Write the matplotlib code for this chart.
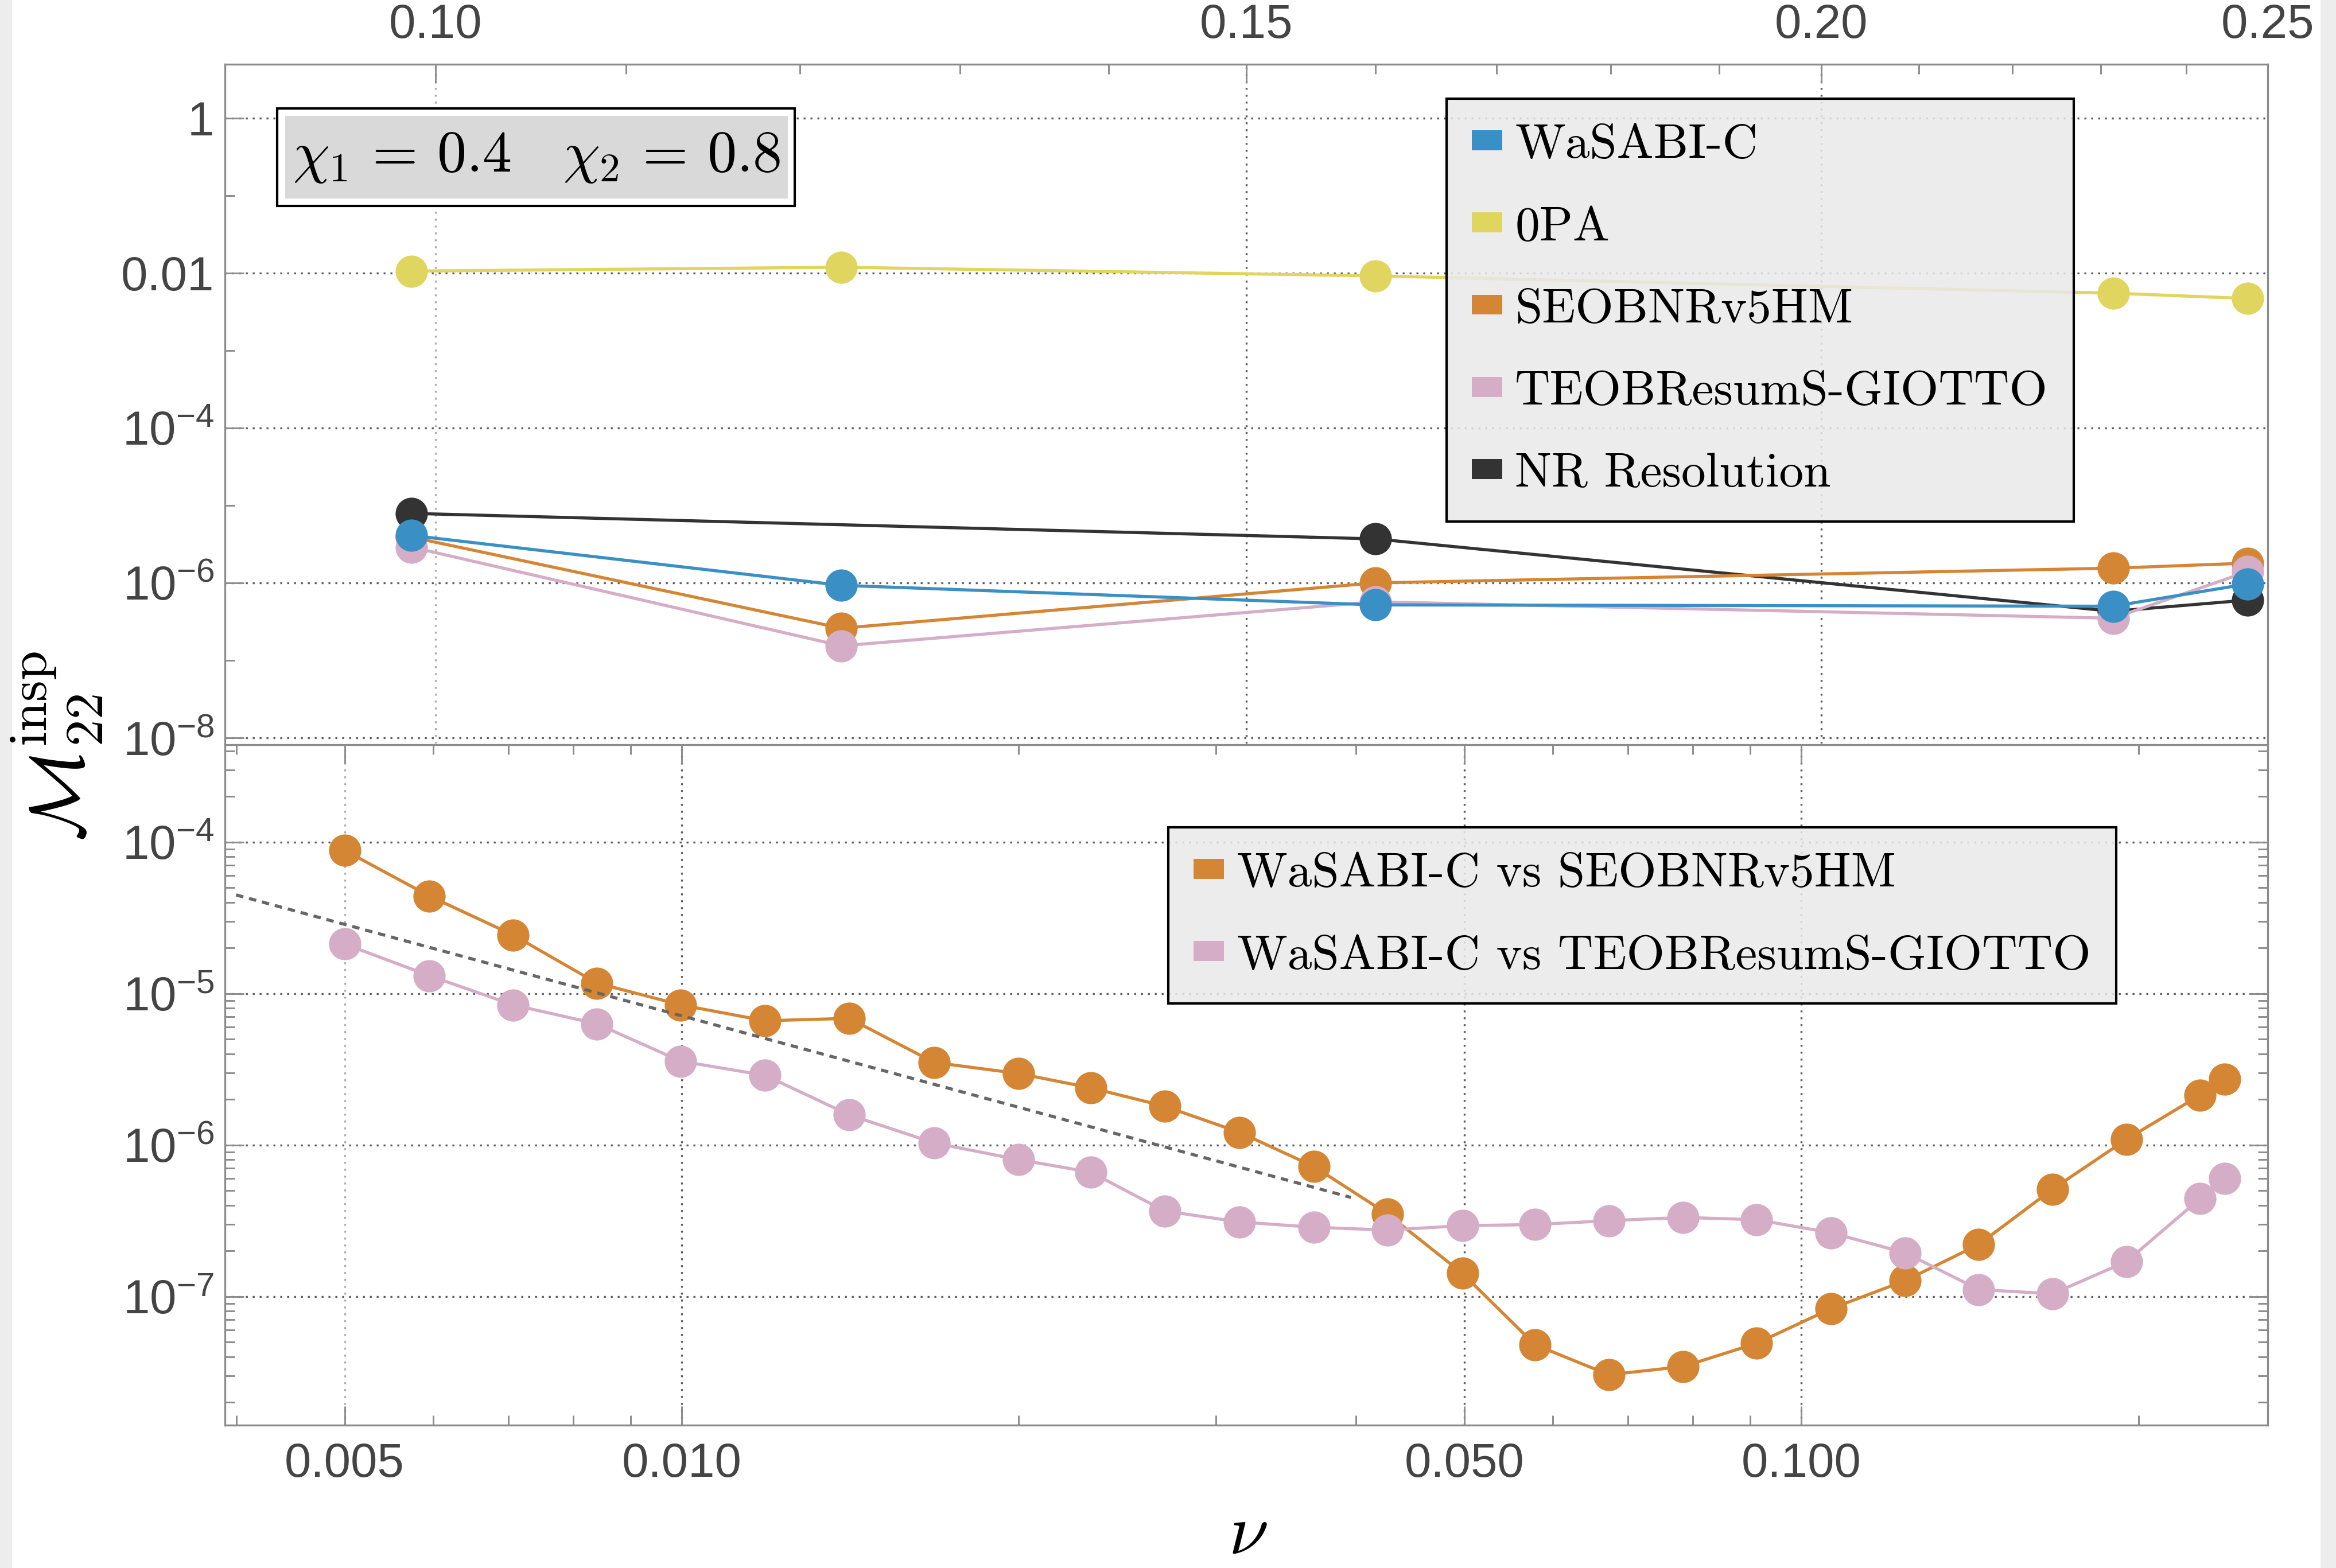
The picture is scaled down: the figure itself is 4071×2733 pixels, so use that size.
import matplotlib
matplotlib.use("Agg")
import matplotlib.pyplot as plt
from matplotlib.patches import Patch, Rectangle
from matplotlib.ticker import LogLocator, NullFormatter

plt.rcParams['font.family'] = ['Liberation Sans', 'DejaVu Sans']
plt.rcParams['mathtext.fontset'] = 'custom'
plt.rcParams['mathtext.rm'] = 'Liberation Sans'
plt.rcParams['mathtext.it'] = 'Liberation Sans:italic'
plt.rcParams['mathtext.bf'] = 'Liberation Sans:bold'

# ---- top panel: NR comparison for chi1=0.4, chi2=0.8
nu_top = [0.0988, 0.1225, 0.160, 0.2314, 0.2475]
nu_nr = [0.0988, 0.160, 0.2314, 0.2475]
mm_wasabi = [4.1e-6, 9.3e-7, 5.2e-7, 5.0e-7, 9.7e-7]
mm_0pa = [0.0106, 0.0119, 0.0092, 0.0055, 0.0047]
mm_seob = [3.9e-6, 2.6e-7, 1.0e-6, 1.55e-6, 1.8e-6]
mm_teob = [2.9e-6, 1.54e-7, 5.7e-7, 3.5e-7, 1.4e-6]
mm_nr = [7.9e-6, 3.7e-6, 4.3e-7, 6.0e-7]

# ---- bottom panel: WaSABI-C vs EOB models
nu_bot = [0.005, 0.00595, 0.00707, 0.0084, 0.00998, 0.01187, 0.01411, 0.01681,
          0.01999, 0.0232, 0.0270, 0.0315, 0.0367, 0.0427, 0.0498, 0.0578,
          0.0673, 0.0784, 0.0912, 0.1063, 0.1238, 0.144, 0.1676, 0.1952,
          0.227, 0.2388]
mm_vs_seob = [8.8e-5, 4.4e-5, 2.43e-5, 1.17e-5, 8.4e-6, 6.6e-6, 6.85e-6, 3.5e-6,
              2.96e-6, 2.38e-6, 1.8e-6, 1.21e-6, 7.2e-7, 3.5e-7, 1.42e-7, 4.8e-8,
              3.04e-8, 3.44e-8, 4.9e-8, 8.3e-8, 1.27e-7, 2.2e-7, 5.1e-7, 1.09e-6,
              2.13e-6, 2.72e-6]
mm_vs_teob = [2.12e-5, 1.31e-5, 8.4e-6, 6.3e-6, 3.57e-6, 2.88e-6, 1.58e-6, 1.03e-6,
              8.0e-7, 6.6e-7, 3.66e-7, 3.1e-7, 2.86e-7, 2.74e-7, 2.93e-7, 2.98e-7,
              3.16e-7, 3.32e-7, 3.21e-7, 2.63e-7, 1.94e-7, 1.11e-7, 1.04e-7, 1.7e-7,
              4.42e-7, 6.0e-7]
# nu^-2 guide line (end points)
dash_nu = [0.004, 0.0396]
dash_mm = [4.47e-5, 4.5e-7]

top_xticks = [0.10, 0.15, 0.20, 0.25]
top_xlabels = ['0.10', '0.15', '0.20', '0.25']
top_xminor = [0.11, 0.12, 0.13, 0.14, 0.16, 0.17, 0.18, 0.19, 0.21, 0.22, 0.23, 0.24]
top_yticks = [1, 1e-2, 1e-4, 1e-6, 1e-8]
top_ylabels = ['1', '0.01', r'$10^{-4}$', r'$10^{-6}$', r'$10^{-8}$']
top_yminor = [1e-1, 1e-3, 1e-5, 1e-7]
bot_xticks = [0.005, 0.010, 0.050, 0.100]
bot_xlabels = ['0.005', '0.010', '0.050', '0.100']
bot_yticks = [1e-4, 1e-5, 1e-6, 1e-7]
bot_ylabels = [r'$10^{-4}$', r'$10^{-5}$', r'$10^{-6}$', r'$10^{-7}$']

c_blue = '#3a8fc4'
c_yellow = '#e0d55e'
c_orange = '#d58634'
c_pink = '#d6adc6'
c_black = '#333333'
frame_col = '#8c8c8c'
grid_dark = '#5a5a5a'
grid_light = '#ababab'
dots = (0, (1.0, 2.6))

W, H = 4071, 2733
fig = plt.figure(figsize=(W / 300, H / 300), dpi=300)
L, R = 392 / W, 3952 / W
ax1 = fig.add_axes([L, 1 - 1296 / H, R - L, (1296 - 112) / H])
ax2 = fig.add_axes([L, 1 - 2484 / H, R - L, (2484 - 1298) / H])


def style(ax):
    for s in ax.spines.values():
        s.set_color(frame_col)
        s.set_linewidth(0.8)
    ax.tick_params(which='both', direction='in', color=frame_col, width=0.7,
                   labelcolor='#444444', labelsize=20)
    ax.tick_params(which='major', length=8)
    ax.tick_params(which='minor', length=4)


# ---------------- top panel
ax1.set_xscale('log')
ax1.set_yscale('log')
ax1.set_xlim(0.09, 0.25)
ax1.set_ylim(10 ** -8.074, 10 ** 0.696)
style(ax1)
ax1.set_xticks(top_xticks, top_xlabels)
ax1.set_xticks(top_xminor, minor=True)
ax1.xaxis.set_minor_formatter(NullFormatter())
ax1.set_yticks(top_yticks, top_ylabels)
ax1.set_yticks(top_yminor, minor=True)
ax1.yaxis.set_minor_formatter(NullFormatter())
ax1.tick_params(axis='x', which='both', top=True, bottom=False,
                labeltop=True, labelbottom=False, pad=7)
ax1.tick_params(axis='y', which='both', left=True, right=False, pad=4.5)
ax1.spines['bottom'].set_visible(False)

for i, v in enumerate(top_xticks[:-1]):
    ax1.axvline(v, color=grid_light if i == 0 else grid_dark, lw=0.8, ls=dots, zorder=1)
for v in top_yticks:
    ax1.axhline(v, color=grid_dark, lw=0.8, ls=dots, zorder=1)

kw = dict(lw=1.3, marker='o', ms=13.5, mec='none')
ax1.plot(nu_nr, mm_nr, color=c_black, zorder=3, **kw)
ax1.plot(nu_top, mm_0pa, color=c_yellow, zorder=4, **kw)
ax1.plot(nu_top, mm_seob, color=c_orange, zorder=5, **kw)
ax1.plot(nu_top, mm_teob, color=c_pink, zorder=6, **kw)
ax1.plot(nu_top, mm_wasabi, color=c_blue, zorder=7, **kw)

leg_kw = dict(loc='upper left', borderaxespad=0, prop={'family': 'cmr10', 'size': 20.5},
              handlelength=0.62, handleheight=0.25, handletextpad=0.26,
              labelspacing=0.8, borderpad=0.52, fancybox=False, frameon=True)
top_labels = ['WaSABI-C', '0PA', 'SEOBNRv5HM', 'TEOBResumS-GIOTTO', 'NR Resolution']
top_cols = [c_blue, c_yellow, c_orange, c_pink, c_black]
leg1 = ax1.legend([Patch(facecolor=c, edgecolor='none') for c in top_cols], top_labels,
                  bbox_to_anchor=(0.598, 0.9493), **leg_kw)

# chi box
ax1.add_patch(Rectangle((0.0256, 0.7914), 0.2533, 0.1436, transform=ax1.transAxes,
                        facecolor='white', edgecolor='black', lw=1.0, zorder=15))
ax1.add_patch(Rectangle((0.0295, 0.8024), 0.2461, 0.1216, transform=ax1.transAxes,
                        facecolor='#d9d9d9', edgecolor='none', zorder=16))
ax1.text(0.1525, 0.863, r'$\chi_1 \,=\, 0.4\quad\chi_2 \,=\, 0.8$', transform=ax1.transAxes,
         fontsize=24.5, math_fontfamily='cm', ha='center', va='center', zorder=17)

# ---------------- bottom panel
ax2.set_xscale('log')
ax2.set_yscale('log')
ax2.set_xlim(0.003909, 0.2609)
ax2.set_ylim(10 ** -7.850, 10 ** -3.358)
style(ax2)
ax2.set_xticks(bot_xticks, bot_xlabels)
ax2.xaxis.set_minor_locator(LogLocator(base=10, subs=[2, 3, 4, 5, 6, 7, 8, 9]))
ax2.xaxis.set_minor_formatter(NullFormatter())
ax2.set_yticks(bot_yticks, bot_ylabels)
ax2.yaxis.set_minor_locator(LogLocator(base=10, subs=[2, 3, 4, 5, 6, 7, 8, 9]))
ax2.yaxis.set_minor_formatter(NullFormatter())
ax2.tick_params(axis='x', which='both', top=True, bottom=True, pad=7)
ax2.tick_params(axis='y', which='both', left=True, right=True, pad=4.5)

for i, v in enumerate(bot_xticks):
    ax2.axvline(v, color=grid_light if i == 0 else grid_dark, lw=0.8, ls=dots, zorder=1)
for v in bot_yticks:
    ax2.axhline(v, color=grid_dark, lw=0.8, ls=dots, zorder=1)

ax2.plot(nu_bot, mm_vs_seob, color=c_orange, zorder=5, **kw)
ax2.plot(nu_bot, mm_vs_teob, color=c_pink, zorder=6, **kw)
ax2.plot(dash_nu, dash_mm, color='#666666', lw=1.3, ls=(0, (2.4, 1.9)), zorder=8)

leg2 = ax2.legend([Patch(facecolor=c_orange, edgecolor='none'),
                   Patch(facecolor=c_pink, edgecolor='none')],
                  ['WaSABI-C vs SEOBNRv5HM', 'WaSABI-C vs TEOBResumS-GIOTTO'],
                  bbox_to_anchor=(0.4618, 0.8786), **leg_kw)

for leg in (leg1, leg2):
    fr = leg.get_frame()
    fr.set_alpha(None)
    fr.set_facecolor((0.915, 0.915, 0.915, 0.85))
    fr.set_edgecolor('black')
    fr.set_linewidth(1.0)
    leg.set_zorder(20)

# axis labels
fig.text(100 / W, 1 - 1300 / H, r'$\mathcal{M}_{22}^{\rm insp}$', rotation=90,
         fontsize=32, math_fontfamily='cm', ha='center', va='center')
fig.text(2175 / W, 1 - 2708 / H, r'$\nu$', fontsize=30, math_fontfamily='cm',
         ha='center', va='baseline')

# light border of the original screenshot
fig.patches.append(Rectangle((0, 0), 21 / W, 1, transform=fig.transFigure,
                             facecolor='#ededed', edgecolor='none', zorder=0))
fig.patches.append(Rectangle((1 - 27 / W, 0), 27 / W, 1, transform=fig.transFigure,
                             facecolor='#ededed', edgecolor='none', zorder=0))

fig.savefig('out.png', dpi=300)
